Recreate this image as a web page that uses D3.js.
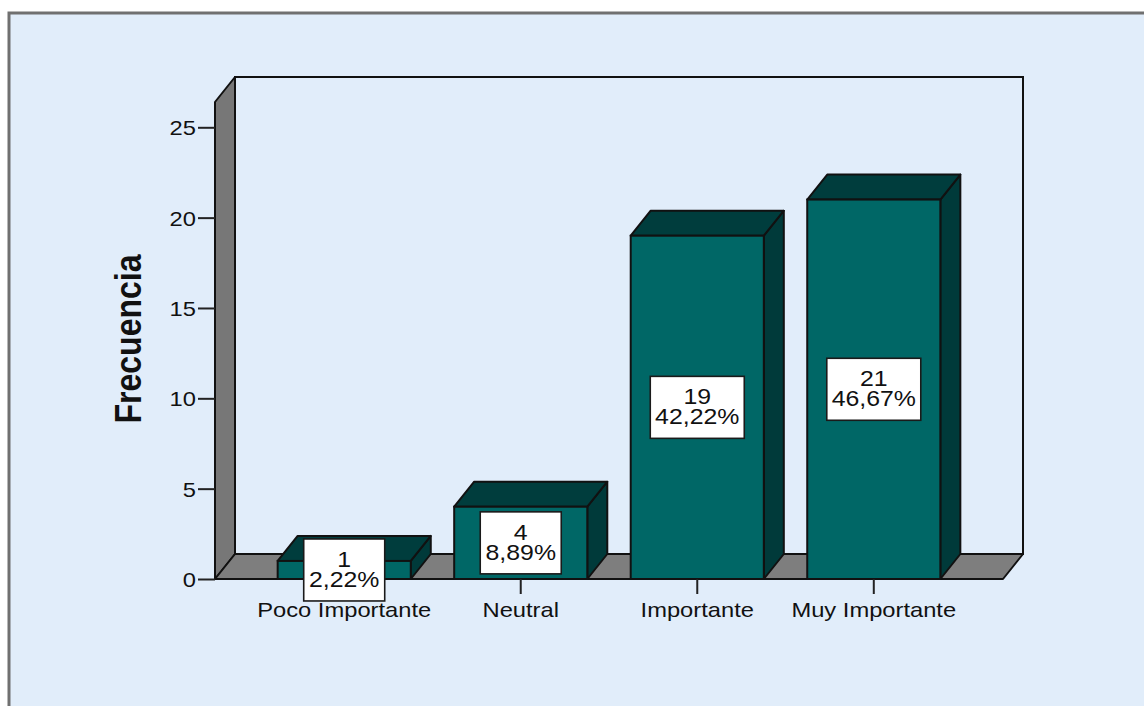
<!DOCTYPE html>
<html>
<head>
<meta charset="utf-8">
<script src="https://cdn.jsdelivr.net/npm/d3@7"></script>
<style>
  html, body { margin: 0; padding: 0; background: #ffffff; }
  svg { display: block; }
  text { font-family: "Liberation Sans", Arial, sans-serif; fill: #111; }
</style>
</head>
<body>
<svg id="chart" width="1144" height="706"></svg>
<script>
// Frequency table
const categories = ["Poco Importante", "Neutral", "Importante", "Muy Importante"];
const counts = [1, 4, 19, 21];
const yTicks = [0, 5, 10, 15, 20, 25];
const yMax = 26.4;
const yTitle = "Frecuencia";

// Layout of the 3D box
const W = 1144, H = 706;
const frontLeft = 215, frontRight = 1003;
const baseY = 579, topY = 102;
const dx = 20, dy = -25;          // depth offset of the 3D projection
const sx = 1.13;                  // horizontal text stretch

const bg = "#e1edfa";
const wallGray = "#777777";
const floorGray = "#7e7e7e";
const barFront = "#006766";
const barTop = "#003d3d";
const barSide = "#003a3a";
const edge = "#111111";

const total = d3.sum(counts);
const pctLabel = c => (c / total * 100).toFixed(2).replace(".", ",") + "%";

const svg = d3.select("#chart");

// Outer frame (continues past the right and bottom edges)
svg.append("rect")
  .attr("x", 9).attr("y", 13)
  .attr("width", W + 60).attr("height", H + 60)
  .attr("fill", bg)
  .attr("stroke", "#707070").attr("stroke-width", 3);

const x = d3.scaleBand()
  .domain(categories)
  .range([frontLeft, frontRight])
  .paddingInner(0.246)
  .paddingOuter(0.355);

const y = d3.scaleLinear()
  .domain([0, yMax])
  .range([baseY, topY]);

const pts = a => a.map(p => p.join(",")).join(" ");

// Back wall
svg.append("rect")
  .attr("x", frontLeft + dx).attr("y", topY + dy)
  .attr("width", frontRight - frontLeft).attr("height", baseY - topY)
  .attr("fill", bg)
  .attr("stroke", edge).attr("stroke-width", 2);

// Left wall
svg.append("polygon")
  .attr("points", pts([[frontLeft, baseY], [frontLeft, topY], [frontLeft + dx, topY + dy], [frontLeft + dx, baseY + dy]]))
  .attr("fill", wallGray)
  .attr("stroke", edge).attr("stroke-width", 2).attr("stroke-linejoin", "round");

// Floor
svg.append("polygon")
  .attr("points", pts([[frontLeft, baseY], [frontRight, baseY], [frontRight + dx, baseY + dy], [frontLeft + dx, baseY + dy]]))
  .attr("fill", floorGray)
  .attr("stroke", edge).attr("stroke-width", 2).attr("stroke-linejoin", "round");

// Bars
const data = categories.map((c, i) => ({ cat: c, v: counts[i] }));
const bars = svg.append("g").selectAll("g").data(data).join("g");

bars.each(function (d) {
  const g = d3.select(this);
  const x0 = x(d.cat), x1 = x0 + x.bandwidth();
  const yt = y(d.v), y0 = y(0);
  g.append("polygon")
    .attr("points", pts([[x1, yt], [x1 + dx, yt + dy], [x1 + dx, y0 + dy], [x1, y0]]))
    .attr("fill", barSide).attr("stroke", edge).attr("stroke-width", 2).attr("stroke-linejoin", "round");
  g.append("polygon")
    .attr("points", pts([[x0, yt], [x1, yt], [x1 + dx, yt + dy], [x0 + dx, yt + dy]]))
    .attr("fill", barTop).attr("stroke", edge).attr("stroke-width", 2).attr("stroke-linejoin", "round");
  g.append("rect")
    .attr("x", x0).attr("y", yt)
    .attr("width", x1 - x0).attr("height", y0 - yt)
    .attr("fill", barFront).attr("stroke", edge).attr("stroke-width", 2);
});

// Y axis
const yAxis = svg.append("g")
  .attr("transform", `translate(${frontLeft},0)`)
  .call(d3.axisLeft(y).tickValues(yTicks).tickSize(17).tickFormat(d3.format("d")));
yAxis.select(".domain").remove();
yAxis.selectAll(".tick line").attr("stroke", "#222").attr("stroke-width", 2);
yAxis.selectAll(".tick text")
  .attr("x", 0).attr("dy", "0.36em")
  .attr("transform", `translate(-19,0) scale(${sx},1)`)
  .attr("text-anchor", "end")
  .style("font-size", "21px")
  .style("font-family", '"Liberation Sans", Arial, sans-serif')
  .attr("fill", "#111");

// X axis
const xAxis = svg.append("g")
  .attr("transform", `translate(0,${baseY})`)
  .call(d3.axisBottom(x).tickSize(15));
xAxis.select(".domain").remove();
xAxis.selectAll(".tick line").attr("stroke", "#222").attr("stroke-width", 2);
xAxis.selectAll(".tick text")
  .attr("y", 0).attr("dy", null)
  .attr("transform", `translate(0,38) scale(${sx},1)`)
  .style("font-size", "21px")
  .style("font-family", '"Liberation Sans", Arial, sans-serif')
  .attr("fill", "#111");

// Y title
svg.append("text")
  .attr("transform", `translate(141,339) rotate(-90) scale(1,${sx})`)
  .attr("text-anchor", "middle")
  .style("font-size", "32px")
  .style("font-weight", "bold")
  .text(yTitle);

// Value labels: count and percentage in a white box at the middle of each bar
const labels = svg.append("g").selectAll("g").data(data).join("g");
labels.each(function (d) {
  const g = d3.select(this);
  const cx = x(d.cat) + x.bandwidth() / 2;
  const cy = (y(d.v) + y(0)) / 2;
  const box = g.append("rect").attr("fill", "#ffffff").attr("stroke", "#1a1a1a").attr("stroke-width", 1.6);
  const t = g.append("text")
    .attr("transform", `translate(${cx},${cy - 3}) scale(${sx},1)`)
    .attr("text-anchor", "middle").style("font-size", "22px");
  t.append("tspan").attr("x", 0).attr("y", 0).text(d.v);
  t.append("tspan").attr("x", 0).attr("y", 20).text(pctLabel(d.v));
  const tw = t.node().getBBox().width * sx;
  const bw = Math.round(tw + 10), bh = 62;
  box.attr("x", cx - bw / 2).attr("y", cy - bh / 2).attr("width", bw).attr("height", bh);
});
</script>
</body>
</html>
